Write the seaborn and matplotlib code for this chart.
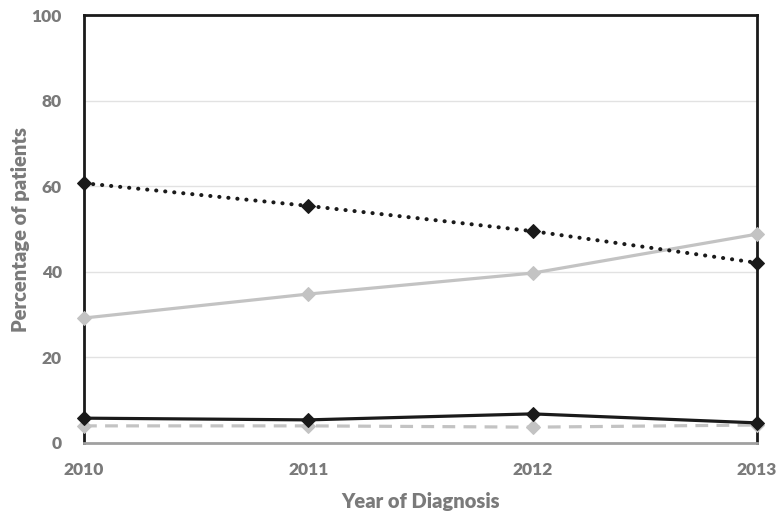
import matplotlib
matplotlib.use("Agg")
import matplotlib.pyplot as plt
import seaborn as sns
import pandas as pd

years = [2010, 2011, 2012, 2013]
dotted_black = [60.7, 55.4, 49.5, 42.1]
solid_gray = [29.2, 34.8, 39.7, 48.8]
solid_black = [5.8, 5.4, 6.8, 4.7]
dashed_gray = [4.0, 4.0, 3.7, 4.2]
y_ticks = [0, 20, 40, 60, 80, 100]

sns.set_theme(style="white")
plt.rcParams['font.family'] = ['Lato', 'DejaVu Sans']

fig = plt.figure(figsize=(7.83, 5.16), dpi=100)
ax = fig.add_axes([0.1073, 0.1415, 0.9668 - 0.1073, 0.9709 - 0.1415])

tick_color = "#7a7a7a"
black = "#1a1a1a"
gray = "#c3c3c3"

for yv in y_ticks[1:]:
    ax.axhline(yv, color="#e2e2e2", lw=1, zorder=0)

series = [
    (solid_gray, gray, "-", 2.3, "butt"),
    (dashed_gray, gray, (0, (4.0, 2.6)), 2.3, "butt"),
    (solid_black, black, "-", 2.3, "butt"),
    (dotted_black, black, (0, (0.05, 2.2)), 2.9, "round"),
]
for vals, col, ls, lw, cap in series:
    df = pd.DataFrame({"year": years, "val": vals})
    sns.lineplot(data=df, x="year", y="val", ax=ax, color=col, lw=lw,
                 linestyle=ls, marker="D", markersize=7.5, markeredgecolor=col,
                 markerfacecolor=col, clip_on=False, zorder=3,
                 dash_capstyle=cap)

ax.set_xlim(2010, 2013)
ax.set_ylim(0, 100)
ax.set_xticks(years)
ax.set_xticklabels([str(y) for y in years])
ax.set_yticks(y_ticks)
for spine in ["left", "top", "right"]:
    ax.spines[spine].set_color(black)
    ax.spines[spine].set_linewidth(2)
ax.spines["bottom"].set_color("#a0a0a0")
ax.spines["bottom"].set_linewidth(2)

ax.tick_params(axis="both", length=0, labelsize=12.5, labelcolor=tick_color)
ax.tick_params(axis="x", pad=14)
ax.tick_params(axis="y", pad=16)
for lab in ax.get_xticklabels() + ax.get_yticklabels():
    lab.set_fontweight("heavy")

ax.set_xlabel("Year of Diagnosis", fontsize=14.5, fontweight="heavy", color=tick_color, labelpad=10)
ax.set_ylabel("Percentage of patients", fontsize=14.5, fontweight="heavy", color=tick_color, labelpad=1)

fig.savefig("out.png", dpi=100, facecolor="white")
